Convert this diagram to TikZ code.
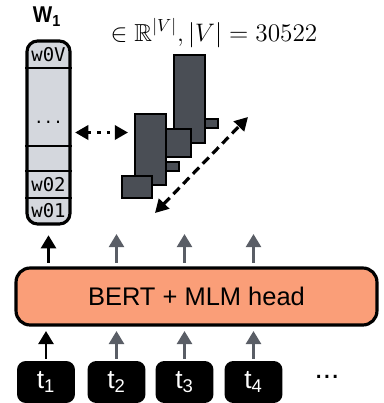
\documentclass[tikz,border=0pt]{standalone}
\usepackage{fontspec}
\usepackage{amssymb}
\newfontfamily\sansfont{Liberation Sans}
\newfontfamily\monofont{DejaVu Sans Mono}
\usepackage{xcolor}
\usetikzlibrary{arrows.meta,positioning,calc}
\definecolor{bertfill}{HTML}{FA9E78}
\definecolor{cellgray}{HTML}{D4D7DD}
\definecolor{bargray}{HTML}{4A4E55}
\definecolor{arrowgray}{HTML}{5A5E66}

\begin{document}
\begin{tikzpicture}[x=0.02cm, y=-0.02cm,
  celltext/.style={inner sep=0pt, font=\monofont\fontsize{10.8}{12}\selectfont},
  bar/.style={draw, line width=1.7pt, fill=bargray},
  tok/.style={rectangle, rounded corners=5pt, fill=black, text=white, minimum width=1.16cm, minimum height=0.84cm, font=\sansfont\fontsize{15}{17}\selectfont},
  uparrow/.style={-{Triangle[length=7.5pt,width=8.5pt]}, line width=1.7pt},
  twohead/.style={{Triangle[length=7.5pt,width=8pt]}-{Triangle[length=7.5pt,width=8pt]}, line width=1.8pt}]
\useasboundingbox (0,0) rectangle (384,403);
\node[rectangle, draw, line width=1.8pt, rounded corners=6pt, fill=cellgray, minimum width=0.86cm, minimum height=3.66cm] (col) at (48.5,132.5) {};
\draw[line width=1.6pt] (col.west |- 0,68) -- (col.east |- 0,68);
\draw[line width=1.6pt] (col.west |- 0,146) -- (col.east |- 0,146);
\draw[line width=1.6pt] (col.west |- 0,171) -- (col.east |- 0,171);
\draw[line width=1.6pt] (col.west |- 0,198) -- (col.east |- 0,198);
\node[celltext] (wV) at (48.5,54.5) {w0V};
\node[celltext, font=\monofont\fontsize{9}{10}\selectfont] (wdots) at (48.5,122) {...};
\node[celltext] (w2) at (48.5,184.5) {w02};
\node[celltext] (w1) at (48.5,211) {w01};
\node[font=\sansfont\bfseries\fontsize{13}{15}\selectfont, xscale=0.9] (wlabel) at (47,17) {W\textsubscript{1}};
\node[font=\fontsize{14}{16}\selectfont] (dimlabel) at (214,33) {$\in \mathbb{R}^{|V|}, |V| = 30522$};

\draw[bar] (174,55) rectangle (205,143);
\draw[bar] (205,119) rectangle (218,128);
\draw[bar] (164,129) rectangle (191,157);
\draw[bar] (135,114) rectangle (166,185);
\draw[bar] (166,162) rectangle (179,171);
\draw[bar] (122,176) rectangle (152,198);

\coordinate (barsleft) at (128,132.5);
\coordinate (diaglow) at (155,213);
\coordinate (diaghigh) at (248,117);
\draw[twohead, dash pattern=on 2pt off 3.5pt] ([xshift=2pt]col.east) -- (barsleft);
\draw[twohead, dash pattern=on 5pt off 3pt] (diaglow) -- (diaghigh);

\node[rectangle, draw, line width=1.8pt, rounded corners=8pt, fill=bertfill, minimum width=7.22cm, minimum height=1.14cm, font=\sansfont\fontsize{14.5}{17}\selectfont] (bert) at (196.5,296.5) {BERT + MLM head};

\node[tok] (t1) at (46,382) {t\textsubscript{1}};
\node[tok] (t2) at (116.5,382) {t\textsubscript{2}};
\node[tok] (t3) at (184.5,382) {t\textsubscript{3}};
\node[tok] (t4) at (253.5,382) {t\textsubscript{4}};
\node[font=\sansfont\fontsize{17}{19}\selectfont] (more) at (327,377) {...};

\draw[uparrow, black, shorten >=2.5pt, shorten <=1pt] (t1.north) -- (t1 |- bert.south);
\draw[uparrow, arrowgray, shorten >=2.5pt, shorten <=1pt] (t2.north) -- (t2 |- bert.south);
\draw[uparrow, arrowgray, shorten >=2.5pt, shorten <=1pt] (t3.north) -- (t3 |- bert.south);
\draw[uparrow, arrowgray, shorten >=2.5pt, shorten <=1pt] (t4.north) -- (t4 |- bert.south);

\coordinate (out2) at (116.5,234);
\coordinate (out3) at (184.5,234);
\coordinate (out4) at (253.5,234);
\draw[uparrow, black, shorten >=5.5pt, shorten <=2pt] (bert.north -| col.south) -- (col.south);
\draw[uparrow, arrowgray, shorten <=2pt] (bert.north -| out2) -- (out2);
\draw[uparrow, arrowgray, shorten <=2pt] (bert.north -| out3) -- (out3);
\draw[uparrow, arrowgray, shorten <=2pt] (bert.north -| out4) -- (out4);
\end{tikzpicture}
\end{document}
